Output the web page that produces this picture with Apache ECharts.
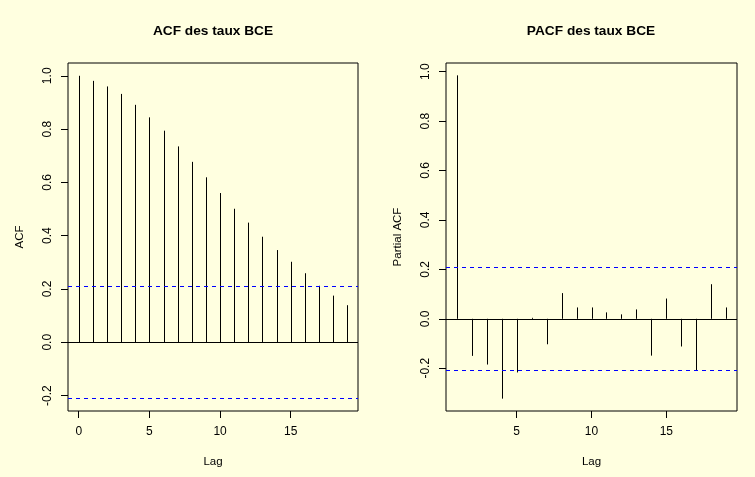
<!DOCTYPE html>
<html>
<head>
<meta charset="utf-8">
<script src="https://cdn.jsdelivr.net/npm/echarts@6/dist/echarts.min.js"></script>
<style>
  html, body { margin: 0; padding: 0; background: #ffffe0; }
  #chart { width: 755px; height: 477px; }
</style>
</head>
<body>
<div id="chart"></div>
<script>
// ACF / PACF des taux BCE
const acfLags = [0, 1, 2, 3, 4, 5, 6, 7, 8, 9, 10, 11, 12, 13, 14, 15, 16, 17, 18, 19];
const acfValues = [1.0, 0.981, 0.960, 0.932, 0.891, 0.844, 0.794, 0.735, 0.677, 0.619,
  0.560, 0.501, 0.449, 0.396, 0.346, 0.302, 0.259, 0.212, 0.175, 0.139];
const pacfLags = [1, 2, 3, 4, 5, 6, 7, 8, 9, 10, 11, 12, 13, 14, 15, 16, 17, 18, 19];
const pacfValues = [0.985, -0.150, -0.185, -0.323, -0.217, 0.004, -0.103, 0.104, 0.046, 0.046,
  0.026, 0.018, 0.038, -0.149, 0.082, -0.112, -0.209, 0.140, 0.046];
const confLimit = 0.208;
const yTicks = [-0.2, 0.0, 0.2, 0.4, 0.6, 0.8, 1.0];
const acfXTicks = [0, 5, 10, 15];
const pacfXTicks = [5, 10, 15];

const font = 'Liberation Sans, Arial, Helvetica, sans-serif';

const chart = echarts.init(document.getElementById('chart'));

function spike(params, api) {
  const top = api.coord([api.value(0), api.value(1)]);
  const base = api.coord([api.value(0), 0]);
  const x = Math.round(top[0]) + 0.5;
  return {
    type: 'line',
    shape: { x1: x, y1: base[1], x2: x, y2: top[1] },
    style: { stroke: '#000', lineWidth: 1 }
  };
}

function xAxisFor(idx, min, max, ticks) {
  return {
    type: 'value', gridIndex: idx, min: min, max: max,
    name: 'Lag', nameLocation: 'middle', nameGap: 45,
    nameTextStyle: { fontFamily: font, fontSize: 11.5, color: '#000' },
    axisLine: { show: false, onZero: false },
    axisTick: { show: true, length: 7, customValues: ticks, lineStyle: { color: '#000' } },
    axisLabel: { customValues: ticks, margin: 15, fontFamily: font, fontSize: 12, color: '#000' },
    splitLine: { show: false }
  };
}

function yAxisFor(idx, min, max, name) {
  return {
    type: 'value', gridIndex: idx, min: min, max: max,
    name: name, nameLocation: 'middle', nameGap: 42, nameRotate: 90,
    nameTextStyle: { fontFamily: font, fontSize: 11.5, color: '#000' },
    axisLine: { show: false, onZero: false },
    axisTick: { show: true, length: 7, customValues: yTicks, lineStyle: { color: '#000' } },
    axisLabel: {
      customValues: yTicks, rotate: 90, margin: 14,
      formatter: v => v.toFixed(1),
      fontFamily: font, fontSize: 12, color: '#000'
    },
    splitLine: { show: false }
  };
}

// bandes de confiance bleues en tirets
function confLines(conf) {
  return {
    silent: true, symbol: 'none', animation: false,
    label: { show: false },
    lineStyle: { color: '#0000ff', type: [4, 4], width: 1, opacity: 1 },
    data: [{ yAxis: conf }, { yAxis: -conf }]
  };
}

// ligne du zéro
function zeroLine() {
  return {
    silent: true, symbol: 'none', animation: false,
    label: { show: false },
    lineStyle: { color: '#000000', type: 'solid', width: 1, opacity: 1 },
    data: [{ yAxis: 0 }]
  };
}

const option = {
  backgroundColor: '#ffffe0',
  animation: false,
  title: [
    { text: 'ACF des taux BCE', left: 208, top: 19, textAlign: 'center',
      textStyle: { fontFamily: font, fontSize: 13.7, fontWeight: 'bold', color: '#000' } },
    { text: 'PACF des taux BCE', left: 586, top: 19, textAlign: 'center',
      textStyle: { fontFamily: font, fontSize: 13.7, fontWeight: 'bold', color: '#000' } }
  ],
  grid: [
    { left: 68, top: 63, width: 290, height: 348, show: true, borderColor: '#000', borderWidth: 1, backgroundColor: 'transparent' },
    { left: 446, top: 63, width: 291, height: 348, show: true, borderColor: '#000', borderWidth: 1, backgroundColor: 'transparent' }
  ],
  xAxis: [
    xAxisFor(0, -0.76, 19.76, acfXTicks),
    xAxisFor(1, 0.28, 19.72, pacfXTicks)
  ],
  yAxis: [
    yAxisFor(0, -0.258, 1.048, 'ACF'),
    yAxisFor(1, -0.373, 1.035, 'Partial ACF')
  ],
  series: [
    {
      type: 'custom', xAxisIndex: 0, yAxisIndex: 0,
      renderItem: spike,
      data: acfLags.map((l, i) => [l, acfValues[i]]),
      markLine: zeroLine()
    },
    {
      type: 'line', xAxisIndex: 0, yAxisIndex: 0,
      data: [], symbol: 'none', color: '#0000ff',
      markLine: confLines(confLimit)
    },
    {
      type: 'custom', xAxisIndex: 1, yAxisIndex: 1,
      renderItem: spike,
      data: pacfLags.map((l, i) => [l, pacfValues[i]]),
      markLine: zeroLine()
    },
    {
      type: 'line', xAxisIndex: 1, yAxisIndex: 1,
      data: [], symbol: 'none', color: '#0000ff',
      markLine: confLines(confLimit)
    }
  ]
};

chart.setOption(option);
</script>
</body>
</html>
